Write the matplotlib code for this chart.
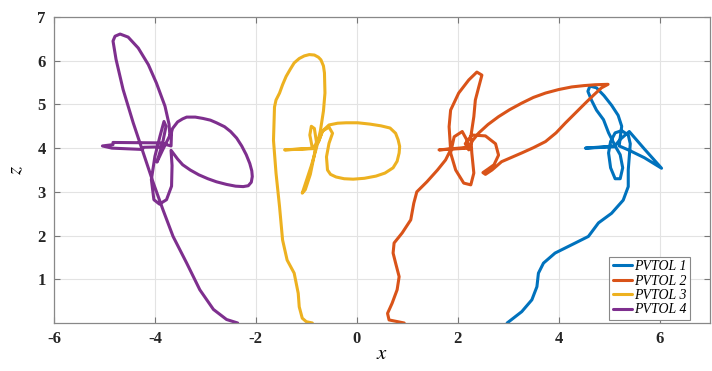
import matplotlib

matplotlib.use("Agg")
import matplotlib.pyplot as plt

# trajectories (x, z)
pvtol1_x = [2.98, 3.27, 3.47, 3.57, 3.60, 3.70, 3.93, 4.33, 4.59, 4.79, 5.05, 5.28, 5.38, 5.38,
            5.40, 5.42, 5.38, 5.25, 5.12, 5.03, 4.99, 5.03, 5.12, 5.22, 5.27, 5.22, 5.12, 4.53,
            5.10, 5.22, 5.40, 5.70, 6.04, 5.70, 5.40, 5.20, 5.25, 5.18, 5.05, 4.90, 4.75, 4.62,
            4.58, 4.65, 4.75, 4.89, 4.99, 5.10]
pvtol1_z = [0.00, 0.26, 0.53, 0.83, 1.14, 1.37, 1.60, 1.83, 1.98, 2.29, 2.51, 2.81, 3.12, 3.50,
            3.80, 4.10, 4.30, 4.40, 4.35, 4.15, 3.89, 3.55, 3.30, 3.30, 3.55, 3.85, 4.05, 4.00,
            4.03, 4.20, 4.38, 3.98, 3.54, 3.78, 3.95, 4.05, 4.50, 4.75, 4.98, 5.20, 5.38, 5.42,
            5.30, 5.10, 4.87, 4.65, 4.35, 4.10]

pvtol2_x = [0.94, 0.64, 0.61, 0.70, 0.80, 0.84, 0.77, 0.72, 0.74, 0.90, 1.07, 1.13, 1.19, 1.39,
            1.60, 1.76, 1.86, 1.83, 1.86, 2.02, 2.22, 2.38, 2.48, 2.42, 2.35, 2.32, 2.26, 2.28,
            2.32, 2.26, 2.12, 1.96, 1.86, 1.93, 2.09, 2.18, 2.22, 2.15, 2.28, 2.55, 2.75, 2.81,
            2.72, 2.60, 2.50, 2.55, 2.68, 2.87, 3.07, 3.27, 3.50, 3.74, 3.95, 4.13, 4.33, 4.53,
            4.70, 4.85, 4.98, 4.72, 4.50, 4.26, 4.00, 3.74, 3.50, 3.27, 3.03, 2.81, 2.60, 2.42,
            2.30, 2.22, 1.63, 2.20]
pvtol2_z = [0.00, 0.07, 0.22, 0.45, 0.76, 1.06, 1.37, 1.60, 1.83, 2.06, 2.36, 2.74, 3.00, 3.23,
            3.50, 3.73, 3.96, 4.49, 4.87, 5.26, 5.56, 5.74, 5.67, 5.41, 5.10, 4.72, 4.26, 3.89,
            3.43, 3.16, 3.20, 3.50, 3.89, 4.26, 4.38, 4.19, 3.96, 4.10, 4.30, 4.28, 4.10, 3.84,
            3.62, 3.52, 3.44, 3.40, 3.50, 3.69, 3.79, 3.89, 4.01, 4.15, 4.35, 4.57, 4.80, 5.03,
            5.22, 5.38, 5.46, 5.45, 5.43, 5.40, 5.34, 5.26, 5.16, 5.03, 4.88, 4.72, 4.54, 4.35,
            4.18, 4.02, 3.96, 4.00]

pvtol3_x = [-0.88, -1.00, -1.08, -1.14, -1.16, -1.24, -1.38, -1.47, -1.53, -1.60, -1.65, -1.63,
            -1.60, -1.53, -1.47, -1.40, -1.32, -1.24, -1.14, -1.04, -0.94, -0.84, -0.76, -0.71,
            -0.66, -0.64, -0.63, -0.66, -0.72, -0.80, -0.90, -1.00, -1.08, -1.02, -0.92, -0.84,
            -0.80, -0.84, -0.90, -0.93, -0.88, -0.76, -0.68, -0.55, -0.38, -0.21, 0.02, 0.26,
            0.48, 0.66, 0.77, 0.82, 0.85, 0.84, 0.80, 0.72, 0.56, 0.38, 0.15, -0.07,
            -0.25, -0.41, -0.52, -0.58, -0.60, -0.55, -0.48, -0.55, -0.68, -0.76, -0.84, -1.43,
            -0.84]
pvtol3_z = [0.00, 0.03, 0.11, 0.37, 0.68, 1.14, 1.44, 1.90, 2.66, 3.43, 4.18, 4.94,
            5.10, 5.26, 5.45, 5.64, 5.80, 5.95, 6.05, 6.11, 6.14, 6.13, 6.08, 6.02,
            5.88, 5.72, 5.26, 4.85, 4.40, 4.00, 3.60, 3.25, 2.97, 3.05, 3.40, 3.85,
            4.15, 4.45, 4.50, 4.30, 4.00, 4.14, 4.39, 4.53, 4.57, 4.58, 4.58, 4.55,
            4.51, 4.46, 4.34, 4.19, 4.04, 3.89, 3.70, 3.55, 3.43, 3.36, 3.31, 3.29,
            3.30, 3.34, 3.40, 3.50, 3.80, 4.11, 4.34, 4.48, 4.39, 4.14, 4.00, 3.96,
            3.99]

pvtol4_x = [-2.36, -2.58, -2.84, -3.11, -3.37, -3.64, -3.84, -4.03, -4.23, -4.43, -4.63, -4.77,
            -4.83, -4.79, -4.69, -4.53, -4.33, -4.13, -3.97, -3.80, -3.72, -3.70, -3.65, -3.55,
            -3.45, -3.37, -3.20, -3.05, -2.90, -2.78, -2.62, -2.50, -2.38, -2.28, -2.19, -2.12,
            -2.08, -2.07, -2.09, -2.15, -2.25, -2.40, -2.58, -2.78, -2.95, -3.13, -3.30, -3.45,
            -3.55, -3.68, -3.66, -3.67, -3.77, -3.91, -4.02, -4.07, -4.00, -3.90, -3.82, -3.78,
            -3.85, -3.96, -3.85, -3.67, -3.68, -3.90, -4.83, -4.83, -5.04, -4.85, -4.25, -4.22,
            -3.85]
pvtol4_z = [0.00, 0.08, 0.31, 0.76, 1.37, 1.98, 2.59, 3.20, 3.89, 4.58, 5.34, 6.03,
            6.45, 6.56, 6.61, 6.54, 6.29, 5.91, 5.49, 4.96, 4.55, 4.25, 4.45, 4.60,
            4.67, 4.71, 4.71, 4.68, 4.64, 4.58, 4.49, 4.38, 4.23, 4.05, 3.85, 3.65,
            3.48, 3.35, 3.22, 3.14, 3.12, 3.13, 3.17, 3.23, 3.30, 3.39, 3.50, 3.62,
            3.75, 3.95, 3.60, 3.13, 2.82, 2.72, 2.82, 3.28, 3.81, 4.27, 4.61, 4.50,
            4.10, 3.68, 3.95, 4.37, 4.05, 4.12, 4.13, 4.08, 4.05, 4.00, 3.97, 4.02,
            4.03]

labels = ["PVTOL 1", "PVTOL 2", "PVTOL 3", "PVTOL 4"]
colors = ["#0072BD", "#D95319", "#EDB120", "#7E2F8E"]
x_ticks = [-6, -4, -2, 0, 2, 4, 6]
z_ticks = [1, 2, 3, 4, 5, 6, 7]

plt.rcParams["font.family"] = ["Liberation Serif", "DejaVu Serif"]
plt.rcParams["mathtext.fontset"] = "stix"

fig = plt.figure(figsize=(7.12, 3.71), dpi=100)
ax = fig.add_axes([0.0758, 0.1294, 0.9214, 0.8248])

curves = [(pvtol1_x, pvtol1_z), (pvtol2_x, pvtol2_z), (pvtol3_x, pvtol3_z), (pvtol4_x, pvtol4_z)]
for (xs, zs), lab, c in zip(curves, labels, colors):
    ax.plot(xs, zs, color=c, lw=2.2, label=lab, solid_joinstyle="round", solid_capstyle="round")

ax.set_xlim(-6, 7)
ax.set_ylim(0, 7)
ax.set_xticks(x_ticks)
ax.set_yticks(z_ticks)
ax.set_xticklabels([str(t) for t in x_ticks], fontweight="bold", fontsize=12)
ax.set_yticklabels([str(t) for t in z_ticks], fontweight="bold", fontsize=12)
ax.tick_params(direction="in", top=True, right=True, length=4, color="#777777",
               labelcolor="#262626", pad=6)
ax.grid(color="#e3e3e3", lw=0.8)
ax.set_axisbelow(True)
for s in ax.spines.values():
    s.set_color("#888888")
    s.set_linewidth(0.9)

ax.set_xlabel("$x$", fontsize=15, labelpad=-2)
ax.set_ylabel("$z$", fontsize=15, labelpad=8)

leg = ax.legend(loc="lower right", bbox_to_anchor=(0.97, 0.01), borderaxespad=0,
                prop={"style": "italic", "size": 10}, handlelength=1.4,
                handletextpad=0.15, borderpad=0.25, labelspacing=0.1,
                fancybox=False, framealpha=1, edgecolor="#888888")
leg.get_frame().set_linewidth(0.8)

fig.savefig("out.png", dpi=100)
